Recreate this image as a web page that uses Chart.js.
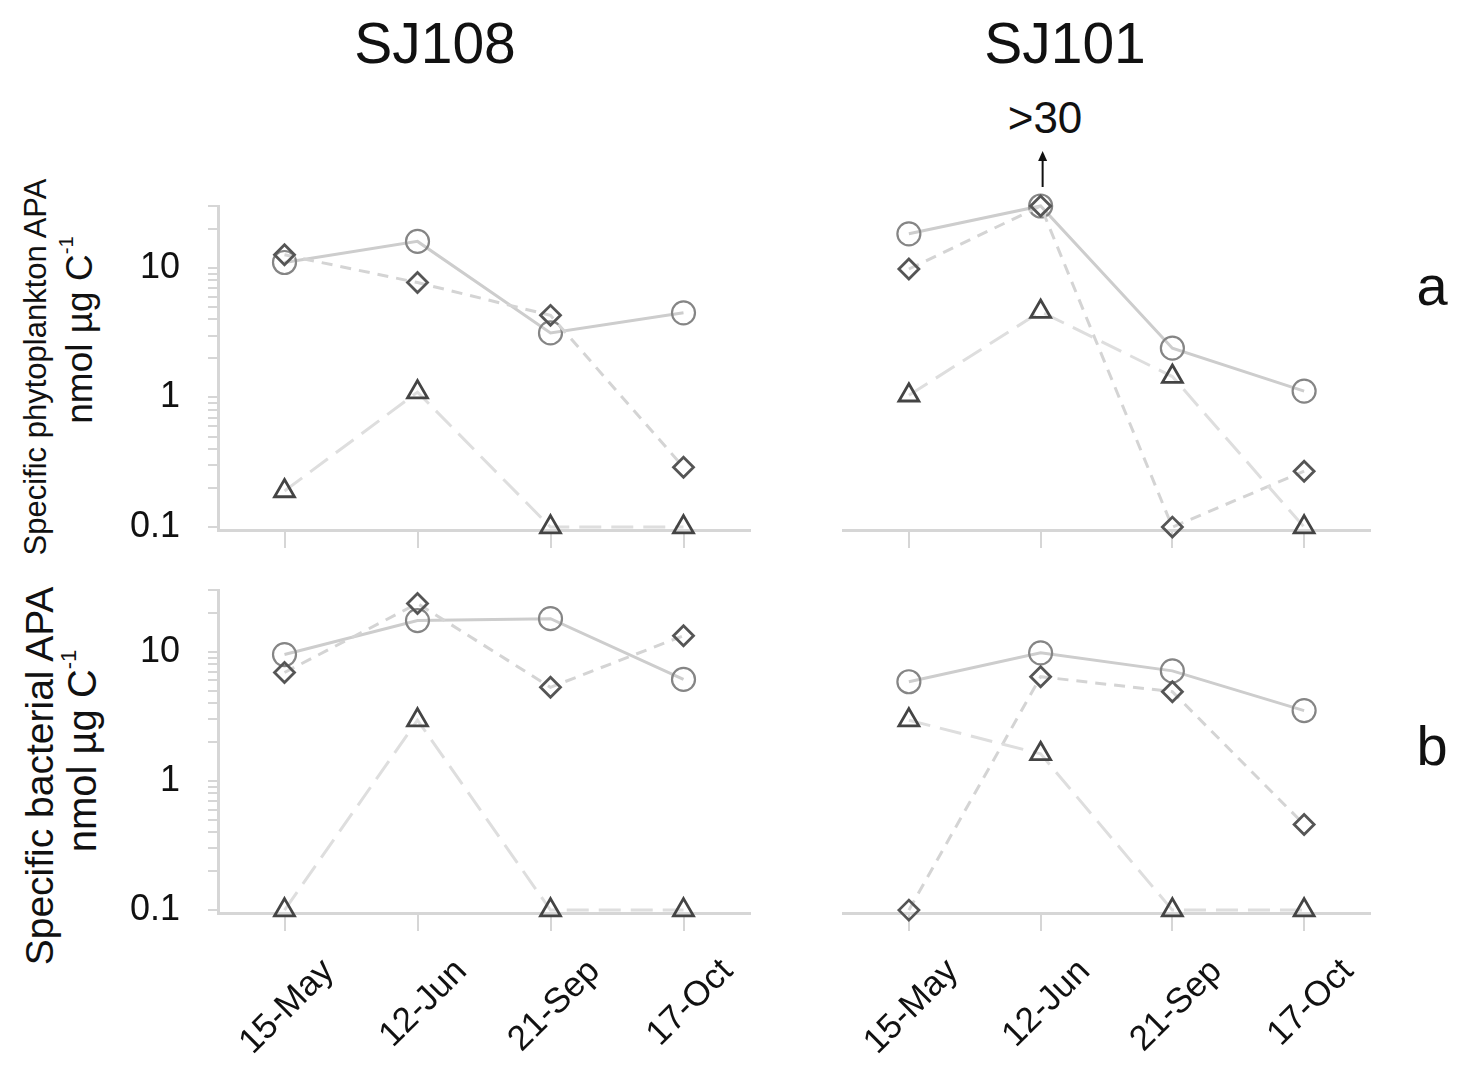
<!DOCTYPE html>
<html>
<head>
<meta charset="utf-8">
<title>Specific APA SJ108 / SJ101</title>
<script src="https://cdn.jsdelivr.net/npm/chart.js@4.4.1/dist/chart.umd.min.js"></script>
<style>
  body { margin: 0; background: #fff; }
  #page { position: relative; width: 1465px; height: 1067px; overflow: hidden; font-family: "Liberation Sans", Arial, sans-serif; color: #111; }
  .panel { position: absolute; }
  .txt { position: absolute; white-space: nowrap; transform: translate(-50%, -50%); line-height: 1; }
  .rot { transform: translate(-50%, -50%) rotate(-90deg); }
  sup { font-size: 55%; vertical-align: 0.9em; line-height: 0; }
</style>
</head>
<body>
<div id="page">
  <div class="txt" style="left:435px; top:43px; font-size:57px;">SJ108</div>
  <div class="txt" style="left:1065px; top:43px; font-size:57px;">SJ101</div>
  <div class="txt" style="left:1045px; top:118px; font-size:44px;">&gt;30</div>
  <div class="txt" style="left:1432px; top:286px; font-size:56px;">a</div>
  <div class="txt" style="left:1432px; top:746px; font-size:56px;">b</div>

  <div class="txt rot" style="left:35px; top:367px; font-size:31px;">Specific phytoplankton APA</div>
  <div class="txt rot" style="left:79px; top:330px; font-size:37px;">nmol µg C<sup>-1</sup></div>
  <div class="txt rot" style="left:39px; top:776px; font-size:39px;">Specific bacterial APA</div>
  <div class="txt rot" style="left:82px; top:751px; font-size:40px;">nmol µg C<sup>-1</sup></div>

  <div class="panel" style="left:100px; top:150px; width:670px; height:400px;"><canvas id="phytoSJ108"></canvas></div>
  <div class="panel" style="left:820px; top:80px; width:580px; height:470px;"><canvas id="phytoSJ101"></canvas></div>
  <div class="panel" style="left:100px; top:570px; width:670px; height:497px;"><canvas id="bactSJ108"></canvas></div>
  <div class="panel" style="left:820px; top:570px; width:580px; height:497px;"><canvas id="bactSJ101"></canvas></div>
</div>

<script>
// sampling dates
var dates = ['15-May', '12-Jun', '21-Sep', '17-Oct'];
var yTicks = [0.1, 1, 10];

// a: specific phytoplankton APA (nmol ug C-1)
var phytoSJ108Circle   = [11, 16, 3.15, 4.5];
var phytoSJ108Diamond  = [12.6, 7.7, 4.3, 0.29];
var phytoSJ108Triangle = [0.19, 1.1, 0.1, 0.1];

var phytoSJ101Circle   = [18.3, 30, 2.4, 1.12];
var phytoSJ101Diamond  = [9.8, 30, 0.1, 0.27];
var phytoSJ101Triangle = [1.04, 4.6, 1.45, 0.1];

// b: specific bacterial APA (nmol ug C-1)
var bactSJ108Circle   = [9.5, 17.4, 18, 6.1];
var bactSJ108Diamond  = [6.9, 23.6, 5.3, 13.3];
var bactSJ108Triangle = [0.1, 2.95, 0.1, 0.1];

var bactSJ101Circle   = [5.85, 9.8, 7.1, 3.5];
var bactSJ101Diamond  = [0.1, 6.4, 4.9, 0.46];
var bactSJ101Triangle = [2.95, 1.62, 0.1, 0.1];

var FONT = '"Liberation Sans", Arial, sans-serif';
var AXIS_GREY = '#d6d6d6';

// log ticks 0.1,0.2..0.9,1,2..9,10,20,30
var logTicks = [];
yTicks.forEach(function (d) {
    for (var k = 1; k <= 9; k++) {
        if (d * k <= 30.0001) logTicks.push(d * k);
    }
});

// arrow above the off-scale SJ101 value
var offScaleArrow = {
    id: 'offScaleArrow',
    afterDatasetsDraw: function (chart, args, opts) {
        if (!opts.show) return;
        var pt = chart.getDatasetMeta(0).data[1];
        var c = chart.ctx;
        c.save();
        c.strokeStyle = '#111';
        c.fillStyle = '#111';
        c.lineWidth = 2;
        c.beginPath();
        c.moveTo(pt.x + 2, pt.y - 19);
        c.lineTo(pt.x + 2, pt.y - 46);
        c.stroke();
        c.beginPath();
        c.moveTo(pt.x + 2, pt.y - 55);
        c.lineTo(pt.x - 2.5, pt.y - 45);
        c.lineTo(pt.x + 6.5, pt.y - 45);
        c.closePath();
        c.fill();
        c.restore();
    }
};

function buildPanel(id, circles, diamonds, triangles, opt) {
    var el = document.getElementById(id);
    if (!el) {
        console.error('Chart element not found: ' + id);
        return;
    }
    return new Chart(el.getContext('2d'), {
        type: 'line',
        data: {
            labels: dates,
            datasets: [{
                data: circles,
                borderColor: '#cdcdcd',
                borderWidth: 3,
                pointStyle: 'circle',
                pointRadius: 11.5,
                pointBorderWidth: 2.2,
                pointBorderColor: '#858585',
                pointBackgroundColor: 'rgba(255,255,255,0)',
                clip: false,
                order: 3
            }, {
                data: diamonds,
                borderColor: '#d4d4d4',
                borderWidth: 3,
                borderDash: [11, 8],
                pointStyle: 'rectRot',
                pointRadius: 10,
                pointBorderWidth: 2.8,
                pointBorderColor: '#555555',
                pointBackgroundColor: 'rgba(255,255,255,0)',
                clip: false,
                order: 2
            }, {
                data: triangles,
                borderColor: '#dedede',
                borderWidth: 3,
                borderDash: [22, 10],
                pointStyle: 'triangle',
                pointRadius: 11.5,
                pointBorderWidth: 2.8,
                pointBorderColor: '#444444',
                pointBackgroundColor: 'rgba(255,255,255,0)',
                clip: false,
                order: 1
            }]
        },
        options: {
            responsive: true,
            maintainAspectRatio: false,
            animation: false,
            events: [],
            layout: {
                autoPadding: false,
                padding: opt.padding
            },
            plugins: {
                legend: { display: false },
                tooltip: { enabled: false },
                offScaleArrow: { show: !!opt.arrow }
            },
            scales: {
                x: {
                    type: 'category',
                    offset: true,
                    grid: {
                        drawOnChartArea: false,
                        drawTicks: true,
                        tickLength: 18,
                        color: AXIS_GREY,
                        lineWidth: 2
                    },
                    border: { display: true, color: AXIS_GREY, width: 3 },
                    ticks: {
                        autoSkip: false,
                        minRotation: 45,
                        maxRotation: 45,
                        padding: 20,
                        labelOffset: opt.xLabels ? 44 : 0,
                        color: '#111',
                        font: { family: FONT, size: 35 },
                        callback: function (v, i) {
                            return opt.xLabels ? dates[i] : '';
                        }
                    },
                    afterFit: function (s) {
                        s.height = opt.xHeight;
                        s.paddingLeft = 0;
                        s.paddingRight = 0;
                    }
                },
                y: {
                    type: 'logarithmic',
                    display: opt.showY,
                    min: 0.095,
                    max: 30,
                    grid: {
                        drawOnChartArea: false,
                        tickLength: 10,
                        color: AXIS_GREY,
                        lineWidth: 2
                    },
                    border: { display: true, color: AXIS_GREY, width: 3 },
                    afterBuildTicks: function (s) {
                        s.ticks = logTicks.map(function (v) { return { value: v }; });
                    },
                    ticks: {
                        autoSkip: false,
                        padding: 28,
                        color: '#111',
                        font: { family: FONT, size: 36 },
                        callback: function (v) {
                            return yTicks.indexOf(v) >= 0 ? String(v) : '';
                        }
                    },
                    afterFit: function (s) {
                        s.width = opt.showY ? 118 : 0;
                        s.paddingTop = 0;
                        s.paddingBottom = 0;
                    }
                }
            }
        },
        plugins: [offScaleArrow]
    });
}

document.addEventListener('DOMContentLoaded', function () {
    buildPanel('phytoSJ108', phytoSJ108Circle, phytoSJ108Diamond, phytoSJ108Triangle, {
        showY: true, xLabels: false, xHeight: 20,
        padding: { left: 0, right: 20, top: 56, bottom: 0 }
    });
    buildPanel('phytoSJ101', phytoSJ101Circle, phytoSJ101Diamond, phytoSJ101Triangle, {
        showY: false, xLabels: false, xHeight: 20, arrow: true,
        padding: { left: 23, right: 30, top: 126, bottom: 0 }
    });
    buildPanel('bactSJ108', bactSJ108Circle, bactSJ108Diamond, bactSJ108Triangle, {
        showY: true, xLabels: true, xHeight: 154,
        padding: { left: 0, right: 20, top: 20, bottom: 0 }
    });
    buildPanel('bactSJ101', bactSJ101Circle, bactSJ101Diamond, bactSJ101Triangle, {
        showY: false, xLabels: true, xHeight: 154,
        padding: { left: 23, right: 30, top: 20, bottom: 0 }
    });
});
</script>
</body>
</html>
